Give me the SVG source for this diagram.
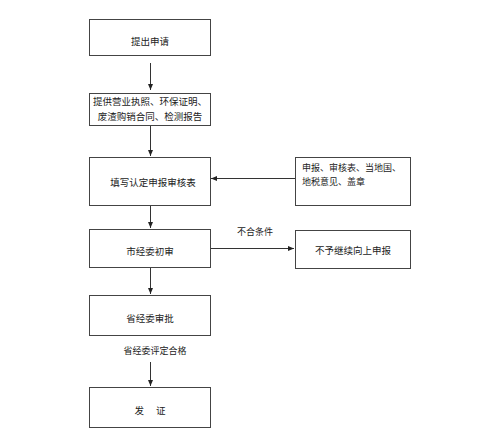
<svg xmlns="http://www.w3.org/2000/svg" width="500" height="438" viewBox="0 0 500 438">
<style>
.box{fill:#fff;stroke:#444;stroke-width:1}
.t{font-family:"Liberation Sans","Noto Sans CJK SC",sans-serif;font-size:9.5px;fill:#222;text-anchor:middle}
.tl{font-family:"Liberation Sans","Noto Sans CJK SC",sans-serif;font-size:9px;fill:#222}
.c{stroke:#333;stroke-width:1;fill:none;marker-end:url(#ah)}
</style>
<defs>
<marker id="ah" viewBox="0 0 6 6" refX="6" refY="3" markerWidth="6" markerHeight="6" markerUnits="userSpaceOnUse" orient="auto">
<path d="M0,0.5 L6,3 L0,5.5 Z" fill="#222"/>
</marker>
</defs>
<rect width="500" height="438" fill="#fff"/>
<g id="n1"><rect class="box" x="89.5" y="19.5" width="121" height="36"/><text class="t" x="150" y="45">提出申请</text></g>
<g id="n2"><rect class="box" x="89.5" y="93.5" width="121" height="32"/><text class="t" x="150" y="105">提供营业执照、环保证明、</text><text class="t" x="150" y="120">废渣购销合同、检测报告</text></g>
<g id="n3"><rect class="box" x="89.5" y="157.5" width="121" height="48"/><text class="t" x="153" y="186">填写认定申报审核表</text></g>
<g id="n4"><rect class="box" x="295.5" y="157.5" width="115" height="48"/><text class="tl" x="302" y="171">申报、审核表、当地国、</text><text class="tl" x="302" y="185">地税意见、盖章</text></g>
<g id="n5"><rect class="box" x="89.5" y="229.5" width="121" height="38"/><text class="t" x="150" y="255">市经委初审</text></g>
<g id="n6"><rect class="box" x="295.5" y="230.5" width="115" height="38"/><text class="t" x="353" y="254">不予继续向上申报</text></g>
<g id="n7"><rect class="box" x="89.5" y="295.5" width="121" height="40"/><text class="t" x="150" y="322">省经委审批</text></g>
<g id="n8"><rect class="box" x="89.5" y="387.5" width="121" height="40"/><text class="t" x="150" y="414" xml:space="preserve">发　 证</text></g>
<g id="connectors">
<path class="c" d="M150.5,63 V90"/>
<path class="c" d="M150.5,126 V156"/>
<path class="c" d="M295,178.5 H211"/>
<path class="c" d="M150.5,206 V228"/>
<path class="c" d="M211,248.5 H294"/>
<path class="c" d="M150.5,268 V294"/>
<path class="c" d="M150.5,362 V386"/>
<text class="tl" x="255" y="235" text-anchor="middle" font-size="9.5">不合条件</text>
<text class="tl" x="155" y="354" text-anchor="middle" font-size="8">省经委评定合格</text>
</g>
</svg>
